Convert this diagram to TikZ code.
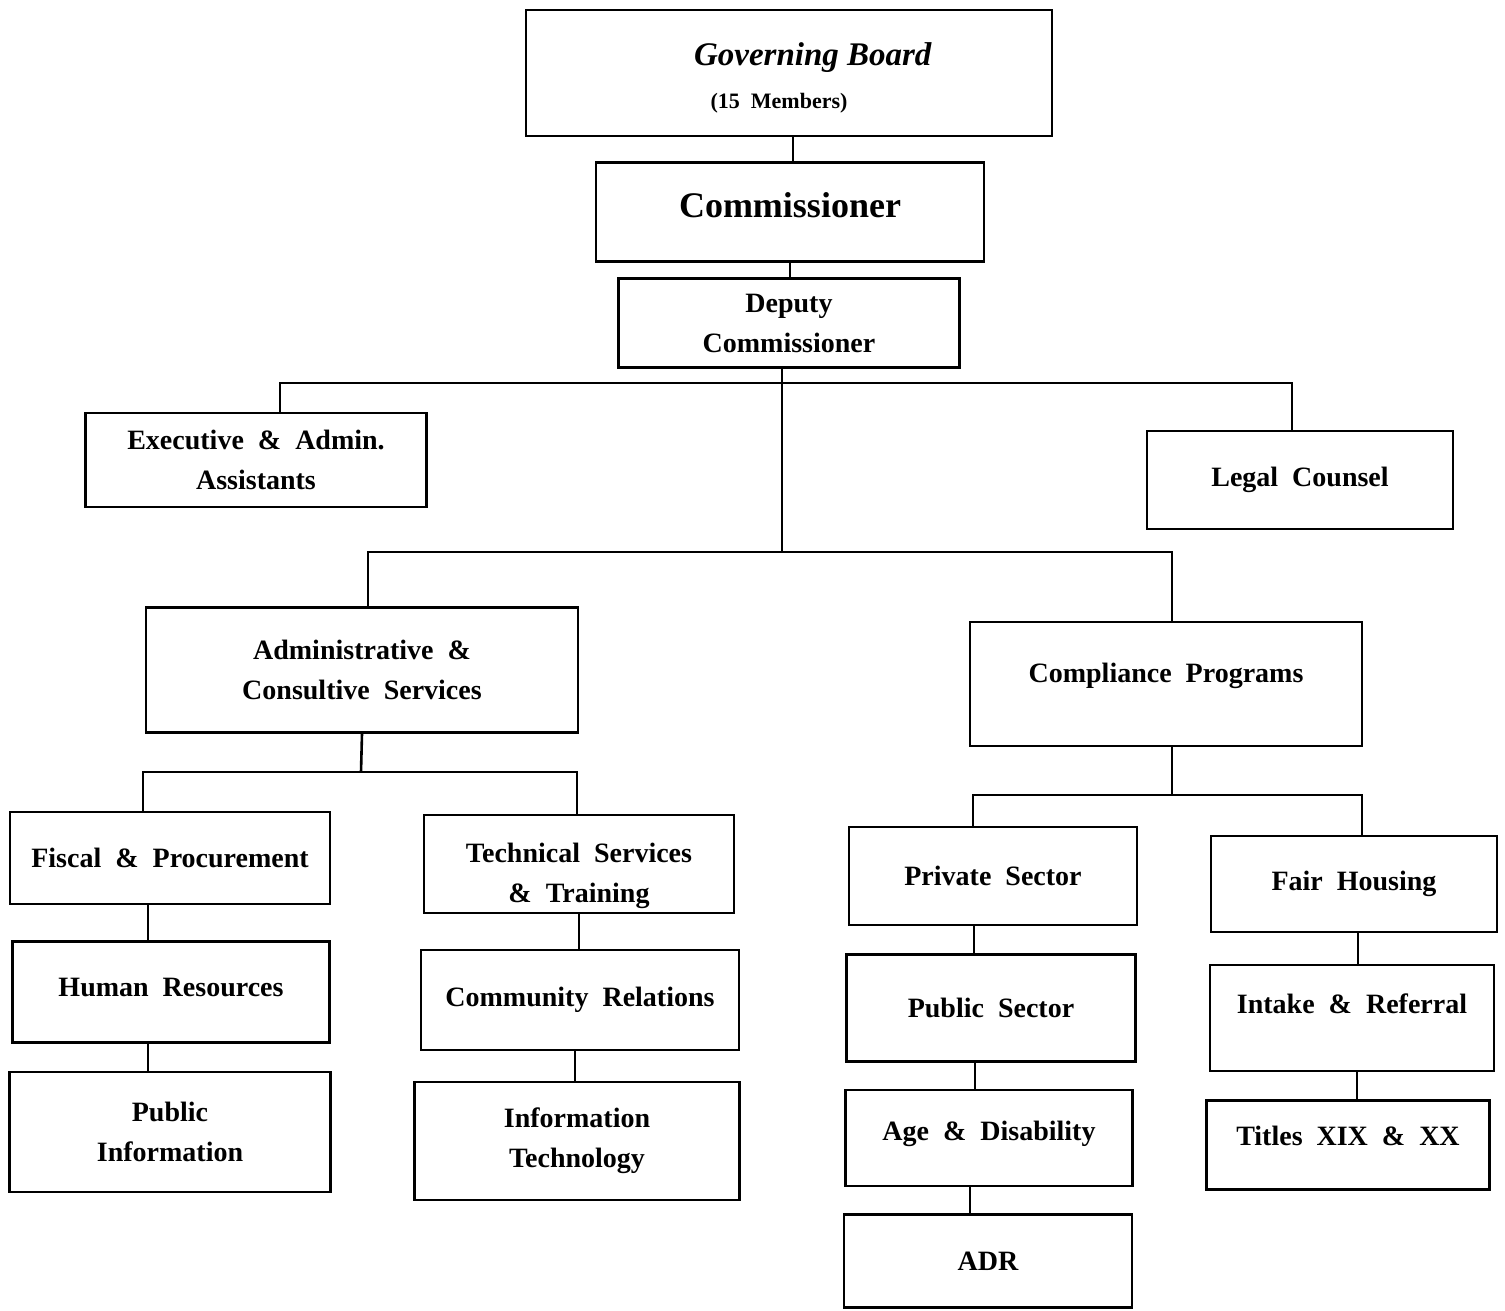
\documentclass[tikz,border=0pt]{standalone}
\usepackage{fontspec}
\setmainfont{Liberation Serif}
\usepackage{tikz}

\begin{document}
\begin{tikzpicture}[x=1pt,y=-1pt,
		box/.style={draw, line width=2.4pt, align=center, inner sep=0pt, font=\fontsize{28}{40}\selectfont\bfseries},
		link/.style={line width=2.6pt}]
		\useasboundingbox (0,0) rectangle (1505,1310);
		
		\node (gov) [box, minimum width=526, minimum height=126] at (789,73) {\rule{0pt}{33pt}\hspace*{48pt}\textit{\fontsize{33}{40}\selectfont Governing Board}\\[3pt]{\fontsize{22}{26}\selectfont (15~~Members)}\hspace*{20pt}};
		\node (comm) [box, minimum width=388, minimum height=99, font=\fontsize{36}{40}\selectfont\bfseries] at (790,212) {\raisebox{7pt}[\height][\depth]{Commissioner}};
		\node (dep) [box, minimum width=341, minimum height=89] at (789,323) {Deputy\\Commissioner};
		
		\node (exec) [box, minimum width=341, minimum height=94] at (256,460) {Executive~~\&~~Admin.\\Assistants};
		\node (legal) [box, minimum width=306, minimum height=98] at (1300,480) {Legal~~Counsel};
		
		\node (admin) [box, minimum width=432, minimum height=125] at (362,670) {Administrative~~\&\\Consultive~~Services};
		\node (compl) [box, minimum width=392, minimum height=124] at (1166,684) {\raisebox{8pt}[\height][\depth]{Compliance~~Programs}};
		
		\node (fiscal) [box, minimum width=320, minimum height=92] at (170,858) {Fiscal~~\&~~Procurement};
		\node (hr) [box, minimum width=317, minimum height=101] at (171,992) {\raisebox{5pt}[\height][\depth]{Human~~Resources}};
		\node (pubinfo) [box, minimum width=321, minimum height=120] at (170,1132) {Public\\Information};
		
		\node (tech) [box, minimum width=310, minimum height=98] at (579,864) {\rule{0pt}{44pt}Technical~~Services\\\&~~Training};
		\node (comrel) [box, minimum width=318, minimum height=100] at (580,1000) {Community~~Relations};
		\node (infotech) [box, minimum width=325, minimum height=118] at (577,1141) {Information\\Technology};
		
		\node (priv) [box, minimum width=288, minimum height=98] at (993,876) {Private~~Sector};
		\node (pubsec) [box, minimum width=289, minimum height=107] at (991,1008) {Public~~Sector};
		\node (age) [box, minimum width=287, minimum height=96] at (989,1138) {\raisebox{4pt}[\height][\depth]{Age~~\&~~Disability}};
		\node (adr) [box, minimum width=288, minimum height=93] at (988,1261) {ADR};
		
		\node (fair) [box, minimum width=286, minimum height=96] at (1354,884) {Fair~~Housing};
		\node (intake) [box, minimum width=284, minimum height=106] at (1352,1018) {\raisebox{14pt}[\height][\depth]{Intake~~\&~~Referral}};
		\node (titles) [box, minimum width=283, minimum height=89] at (1348,1145) {\raisebox{9pt}[\height][\depth]{Titles~~XIX~~\&~~XX}};
		
		% junctions of the bars
		\coordinate (j1) at (782,383);
		\coordinate (j2) at (782,552);
		\coordinate (j3) at (361,772);
		\coordinate (j4) at (1172,795);
		
		\draw[link] ([xshift=4]gov.south) -- ([xshift=4]gov.south |- comm.north);
		\draw[link] (comm.south) -- (comm.south |- dep.north);
		\draw[link] ([xshift=-7]dep.south) -- (j2);
		\draw[link] ([xshift=24]exec.north) |- (j1) -| ([xshift=-8]legal.north);
		\draw[link] ([xshift=6]admin.north) |- (j2) -| ([xshift=6]compl.north);
		
		\draw[link] (admin.south) -- (j3);
		\draw[link] ([xshift=-27]fiscal.north) |- (j3) -| ([xshift=-2]tech.north);
		\draw[link] ([xshift=-22]fiscal.south) -- ([xshift=-22]fiscal.south |- hr.north);
		\draw[link] ([xshift=-23]hr.south) -- ([xshift=-23]hr.south |- pubinfo.north);
		\draw[link] (tech.south) -- (tech.south |- comrel.north);
		\draw[link] ([xshift=-5]comrel.south) -- ([xshift=-5]comrel.south |- infotech.north);
		
		\draw[link] ([xshift=6]compl.south) -- (j4);
		\draw[link] ([xshift=-20]priv.north) |- (j4) -| ([xshift=8]fair.north);
		\draw[link] ([xshift=-19]priv.south) -- ([xshift=-19]priv.south |- pubsec.north);
		\draw[link] ([xshift=-16]pubsec.south) -- ([xshift=-16]pubsec.south |- age.north);
		\draw[link] ([xshift=-19]age.south) -- ([xshift=-19]age.south |- adr.north);
		\draw[link] ([xshift=4]fair.south) -- ([xshift=4]fair.south |- intake.north);
		\draw[link] ([xshift=5]intake.south) -- ([xshift=5]intake.south |- titles.north);
	\end{tikzpicture}
\end{document}
